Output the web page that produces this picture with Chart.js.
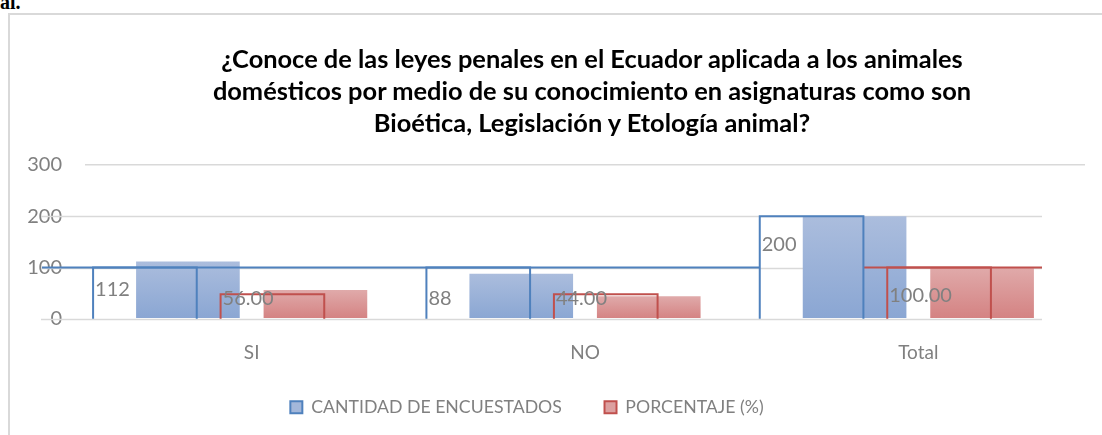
<!DOCTYPE html>
<html>
<head>
<meta charset="utf-8">
<script src="https://cdn.jsdelivr.net/npm/chart.js@4/dist/chart.umd.min.js"></script>
<style>
  html, body { margin: 0; padding: 0; background: #fff; overflow: hidden; }
  #wrap { position: relative; width: 1102px; height: 435px; }
  .frame { position: absolute; left: 8px; top: 13px; width: 1200px; height: 500px;
           border: 2px solid #d9d9d9; box-sizing: border-box; }
  .cut { position: absolute; left: 0; top: -9px; font: bold 20px "Liberation Serif", serif; color: #000; }
  #title { position: absolute; left: 0; top: 42px; width: 1184px; text-align: center;
           font: bold 25.4px Lato, "Open Sans", sans-serif; line-height: 32px; color: #000; }
  canvas { position: absolute; left: 0; top: 0; }
</style>
</head>
<body>
<div id="wrap">
  <div class="cut">al.</div>
  <div class="frame"></div>
  <canvas id="chartCanvas" width="1102" height="435"></canvas>
  <div id="title"></div>
</div>
<script>
// --- data ---
const categories = ["SI", "NO", "Total"];
const cantidad = [112, 88, 200];
const porcentaje = [56.00, 44.00, 100.00];
const yTicks = [0, 100, 200, 300];
// the odd outline boxes drawn over the chart (heights as shown)
const cantidadOutline = [100, 100, 200];
const porcentajeOutline = [48, 48, 100];
const outlineLevel = 100;

const titleLines = [
  "¿Conoce de las leyes penales en el Ecuador aplicada a los animales",
  "domésticos por medio de su conocimiento en asignaturas como son",
  "Bioética, Legislación y Etología animal?"
];
const seriesNames = ["CANTIDAD DE ENCUESTADOS", "PORCENTAJE (%)"];

// --- style ---
const FONT = "Lato, 'Open Sans', sans-serif";
const GRAY_TEXT = "#808080";
const GRID = "#d9d9d9";
const BLUE = "#4f81bd";
const RED = "#c0504d";
const SHIFT = 43; // the ghost layer sits left of the plot

document.getElementById("title").innerHTML = titleLines.join("<br>");
const canvas = document.getElementById("chartCanvas");

function barGradient(ctx, top, bottom) {
  const chart = ctx.chart;
  const y = chart.scales.y;
  if (!chart.chartArea || !y || ctx.type !== "data") return bottom;
  const yTop = y.getPixelForValue(ctx.raw);
  const yBase = y.getPixelForValue(0);
  if (!isFinite(yTop) || yTop === yBase) return bottom;
  const g = chart.ctx.createLinearGradient(0, yTop, 0, yBase);
  g.addColorStop(0, top);
  g.addColorStop(1, bottom);
  return g;
}

// gridlines 0..200, shifted like the picture
const ghostGrid = {
  id: "ghostGrid",
  beforeDatasetsDraw(chart) {
    const { ctx, chartArea, scales } = chart;
    ctx.save();
    ctx.strokeStyle = GRID;
    ctx.lineWidth = 1.5;
    yTicks.slice(0, -1).forEach(v => {
      const py = Math.round(scales.y.getPixelForValue(v)) + 0.5;
      ctx.beginPath();
      ctx.moveTo(chartArea.left - SHIFT - 1, py);
      ctx.lineTo(chartArea.right - SHIFT, py);
      ctx.stroke();
    });
    ctx.restore();
  }
};

// outline boxes + value labels
const overlay = {
  id: "overlay",
  afterDatasetsDraw(chart) {
    const { ctx, chartArea, scales } = chart;
    const y = scales.y;
    const base = y.getPixelForValue(0);
    const lvl = y.getPixelForValue(outlineLevel);
    const outlines = [cantidadOutline, porcentajeOutline];
    const colors = [BLUE, RED];

    ctx.save();
    ctx.lineWidth = 2;
    // level lines
    const totalBlue = chart.getDatasetMeta(0).data[2];
    const tbLeft = totalBlue.x - totalBlue.width / 2 - SHIFT;
    const tbRight = totalBlue.x + totalBlue.width / 2 - SHIFT;
    ctx.strokeStyle = BLUE;
    ctx.beginPath();
    ctx.moveTo(chartArea.left - SHIFT, lvl);
    ctx.lineTo(tbLeft, lvl);
    ctx.stroke();
    ctx.strokeStyle = RED;
    ctx.beginPath();
    ctx.moveTo(tbRight, lvl);
    ctx.lineTo(chartArea.right - SHIFT, lvl);
    ctx.stroke();

    // boxes
    [0, 1].forEach(di => {
      const meta = chart.getDatasetMeta(di);
      ctx.strokeStyle = colors[di];
      meta.data.forEach((bar, i) => {
        const l = bar.x - bar.width / 2 - SHIFT;
        const r = l + bar.width;
        const t = y.getPixelForValue(outlines[di][i]);
        ctx.beginPath();
        ctx.moveTo(l, base);
        ctx.lineTo(l, t);
        ctx.lineTo(r, t);
        ctx.lineTo(r, base);
        ctx.stroke();
      });
    });

    // value labels
    ctx.fillStyle = GRAY_TEXT;
    ctx.font = "20px " + FONT;
    ctx.textAlign = "left";
    ctx.textBaseline = "middle";
    [0, 1].forEach(di => {
      const meta = chart.getDatasetMeta(di);
      const vals = di === 0 ? cantidad : porcentaje;
      meta.data.forEach((bar, i) => {
        const txt = di === 0 ? String(vals[i]) : vals[i].toFixed(2);
        const lx = bar.x - bar.width / 2 - SHIFT + 2;
        const ly = Math.min(bar.y + 28, base - 20);
        ctx.fillText(txt, lx, ly);
      });
    });
    ctx.restore();
  }
};

new Chart(canvas, {
  type: "bar",
  data: {
    labels: categories,
    datasets: [
      {
        label: seriesNames[0],
        data: cantidad,
        backgroundColor: c => barGradient(c, "#abbddd", "#8aa6d3"),
        borderWidth: 0,
        categoryPercentage: 0.765,
        barPercentage: 0.813
      },
      {
        label: seriesNames[1],
        data: porcentaje,
        backgroundColor: c => barGradient(c, "#e0aaaa", "#d48282"),
        borderWidth: 0,
        categoryPercentage: 0.765,
        barPercentage: 0.813
      }
    ]
  },
  options: {
    responsive: false,
    animation: false,
    layout: { padding: { left: -31, right: 17, top: 165, bottom: 9 } },
    plugins: {
      tooltip: { enabled: false },
      title: { display: false },
      legend: {
        position: "bottom",
        labels: {
          color: GRAY_TEXT,
          font: { family: FONT, size: 17.7 },
          boxWidth: 12,
          boxHeight: 12,
          padding: 20,
          generateLabels: () => [
            { text: seriesNames[0] + "     ", fillStyle: "#a3b7da", strokeStyle: BLUE, lineWidth: 2, datasetIndex: 0, fontColor: GRAY_TEXT },
            { text: seriesNames[1], fillStyle: "#dca0a0", strokeStyle: RED, lineWidth: 2, datasetIndex: 1, fontColor: GRAY_TEXT }
          ]
        }
      }
    },
    scales: {
      x: {
        grid: { display: false },
        border: { display: false },
        afterFit: s => { s.height = 59.5; },
        ticks: { color: GRAY_TEXT, font: { family: FONT, size: 19 }, padding: 14.5 }
      },
      y: {
        min: 0,
        max: 300,
        afterBuildTicks: s => { s.ticks = yTicks.map(v => ({ value: v })); },
        afterFit: s => { s.width = 116; },
        border: { display: false },
        grid: {
          drawTicks: false,
          lineWidth: 1.5,
          color: c => (c.tick && c.tick.value === 300 ? GRID : "transparent")
        },
        ticks: { color: GRAY_TEXT, font: { family: FONT, size: 20 }, padding: 23 }
      }
    }
  },
  plugins: [ghostGrid, overlay]
});
</script>
</body>
</html>
